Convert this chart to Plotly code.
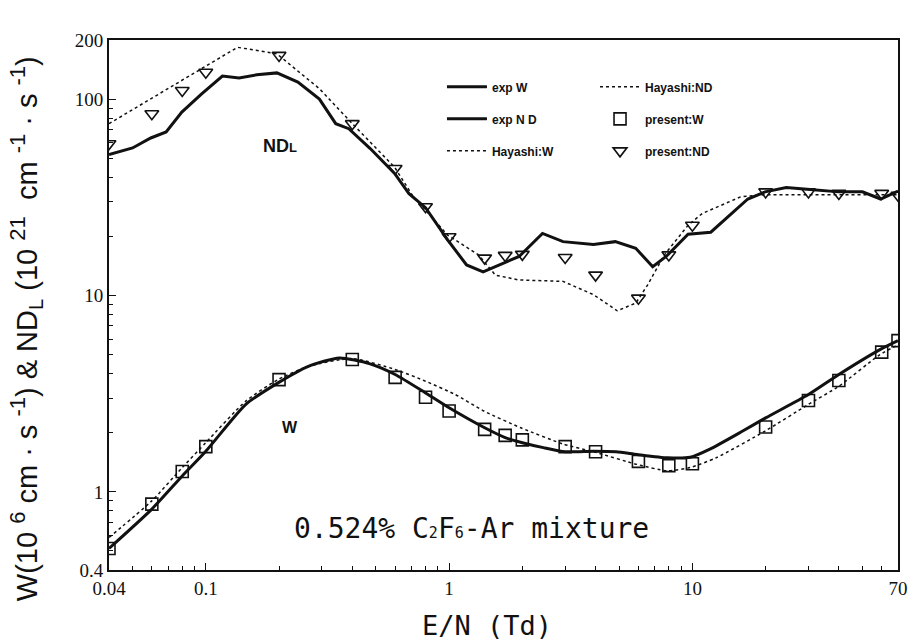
import plotly.graph_objects as go

# ---------------- data ----------------
en_present = [0.04, 0.06, 0.08, 0.1, 0.2, 0.4, 0.6, 0.8, 1, 1.4, 1.7, 2, 3, 4, 6, 8, 10, 20, 30, 40, 60, 70]
w_present = [0.515, 0.866, 1.27, 1.70, 3.73, 4.72, 3.83, 3.03, 2.58, 2.08, 1.94, 1.84, 1.70, 1.60, 1.43, 1.36,
             1.39, 2.14, 2.92, 3.69, 5.15, 5.89]
nd_present = [59.3, 84.2, 110.7, 137, 167, 75, 44.3, 28.3, 19.9, 15.5, 16, 16.2, 15.6, 12.7, 9.69, 16.1, 22.8,
              33.7, 33.7, 33.1, 33.1, 32.4]

en_exp_w = [0.04, 0.06, 0.08, 0.1, 0.146, 0.198, 0.264, 0.354, 0.47, 0.6, 0.8, 1.0, 1.4, 1.7, 2, 2.44, 3, 3.92,
            4.86, 5.92, 7.9, 9.8, 11.8, 16.1, 20, 30, 40, 59, 70]
w_exp = [0.515, 0.817, 1.205, 1.61, 2.79, 3.59, 4.36, 4.81, 4.5, 3.96, 3.19, 2.68, 2.12, 1.89, 1.78, 1.68, 1.60,
         1.61, 1.60, 1.55, 1.49, 1.50, 1.65, 2.04, 2.38, 3.13, 3.96, 5.30, 5.89]

en_hay_w = [0.04, 0.06, 0.08, 0.1, 0.146, 0.198, 0.264, 0.4, 0.6, 0.8, 1.06, 1.39, 1.97, 2.95, 3.92, 5.92, 7.87,
            9.8, 12.5, 19.9, 30, 40, 59, 70]
w_hay = [0.586, 0.90, 1.33, 1.78, 2.9, 3.73, 4.36, 4.77, 4.2, 3.66, 3.13, 2.58, 2.12, 1.75, 1.60, 1.38, 1.28,
         1.33, 1.49, 2.04, 2.79, 3.45, 5.0, 5.6]

en_exp_nd = [0.04, 0.05, 0.0594, 0.0687, 0.0797, 0.0959, 0.117, 0.137, 0.162, 0.196, 0.239, 0.293, 0.342, 0.387,
             0.474, 0.597, 0.684, 0.8, 0.986, 1.18, 1.38, 1.94, 2.42, 2.94, 3.92, 4.82, 5.85, 6.87, 7.8, 9.6,
             11.9, 16.9, 19.9, 24.3, 29.6, 40, 50, 59.4, 70]
nd_exp = [52.2, 56.4, 63.4, 68, 85.9, 106, 131, 128, 133, 136, 122, 100, 75, 70.7, 56, 41.8, 33, 28, 19.2, 14.3,
          13.2, 15.8, 20.7, 18.8, 18.2, 18.8, 17.4, 14.0, 15.8, 20.5, 21, 31, 33.7, 35.5, 34.8, 33.7, 33.7, 31, 34]

en_hay_nd = [0.04, 0.059, 0.135, 0.196, 0.293, 0.4, 0.597, 0.72, 0.788, 0.986, 1.32, 1.55, 1.93, 2.94, 3.92,
             4.91, 5.85, 6.54, 7.67, 9.6, 11, 15.8, 19.6, 29.6, 40, 60, 70]
nd_hay = [75, 100, 183.6, 170, 113, 75, 45, 31.2, 27.8, 20.3, 16.1, 12.7, 12.0, 11.8, 10.1, 8.36, 9.14, 11.3,
          16.1, 22.8, 26.2, 31.8, 32.6, 32.6, 32.6, 32.6, 32.6]

x_tickvals = [0.04, 0.1, 1, 10, 70]
x_ticktext = ["0.04", "0.1", "1", "10", "70"]
y_tickvals = [0.4, 1, 10, 100, 200]
y_ticktext = ["0.4", "1", "10", "100", "200"]
x_minor = [0.05, 0.06, 0.07, 0.08, 0.09, 0.2, 0.3, 0.4, 0.5, 0.6, 0.7, 0.8, 0.9,
           2, 3, 4, 5, 6, 7, 8, 9, 20, 30, 40, 50, 60]
y_minor = [0.5, 0.6, 0.7, 0.8, 0.9, 2, 3, 4, 5, 6, 7, 8, 9, 20, 30, 40, 50, 60, 70, 80, 90]

# ---------------- figure ----------------
BLACK = "#111111"
fig = go.Figure()

fig.add_trace(go.Scatter(x=en_exp_w, y=w_exp, mode="lines", name="exp W", legend="legend",
                         legendgroup="a", line=dict(color=BLACK, width=3, shape="spline", smoothing=0.6)))
fig.add_trace(go.Scatter(x=en_exp_nd, y=nd_exp, mode="lines", name="exp N D", legend="legend",
                         legendgroup="b", line=dict(color=BLACK, width=3)))
fig.add_trace(go.Scatter(x=en_hay_w, y=w_hay, mode="lines", name="Hayashi:W", legend="legend",
                         legendgroup="c", line=dict(color=BLACK, width=1.5, dash="dot", shape="spline",
                                                    smoothing=0.6)))
fig.add_trace(go.Scatter(x=en_hay_nd, y=nd_hay, mode="lines", name="Hayashi:ND", legend="legend2",
                         legendgroup="d", line=dict(color=BLACK, width=1.5, dash="dot")))
fig.add_trace(go.Scatter(x=en_present, y=w_present, mode="markers", name="present:W", legend="legend2",
                         legendgroup="e",
                         marker=dict(symbol="square-open", size=12, color=BLACK, line=dict(width=1.6))))
fig.add_trace(go.Scatter(x=en_present, y=nd_present, mode="markers", name="present:ND", legend="legend2",
                         legendgroup="f",
                         marker=dict(symbol="triangle-down-open", size=12, color=BLACK, line=dict(width=1.6))))

legend_font = dict(family="Liberation Sans", size=12, color=BLACK, weight="bold")
common_leg = dict(orientation="v", bgcolor="rgba(0,0,0,0)", borderwidth=0, font=legend_font,
                  tracegroupgap=13, yanchor="top", xanchor="left", itemwidth=40)

axis_font = dict(family="Liberation Serif", size=19, color=BLACK)

fig.update_layout(
    width=920, height=644,
    margin=dict(l=109, r=15, t=40, b=74),
    plot_bgcolor="white", paper_bgcolor="white",
    showlegend=True,
    legend=dict(x=0.422, y=0.939, **common_leg),
    legend2=dict(x=0.616, y=0.939, **common_leg),
    xaxis=dict(type="log", range=[-1.39794, 1.845098], tickmode="array", tickvals=x_tickvals,
               ticktext=x_ticktext, ticks="inside", ticklen=7, tickwidth=1.2, tickcolor=BLACK,
               minor=dict(tickmode="array", tickvals=x_minor, ticks="inside", ticklen=4, tickcolor=BLACK,
                          showgrid=False),
               showline=True, linewidth=2, linecolor=BLACK, mirror=True, showgrid=False, zeroline=False,
               tickfont=axis_font, ticklabeloverflow="allow"),
    yaxis=dict(type="log", range=[-0.39794, 2.30103], tickmode="array", tickvals=y_tickvals,
               ticktext=y_ticktext, ticks="inside", ticklen=7, tickwidth=1.2, tickcolor=BLACK,
               minor=dict(tickmode="array", tickvals=y_minor, ticks="inside", ticklen=4, tickcolor=BLACK,
                          showgrid=False),
               showline=True, linewidth=2, linecolor=BLACK, mirror=True, showgrid=False, zeroline=False,
               tickfont=axis_font, ticklabeloverflow="allow"),
)

mono = "DejaVu Sans Mono"
sup = "<sup><span style='font-size:22px'>{}</span></sup>"
ytitle = ("W(10 " + sup.format("6") + " cm · s " + sup.format("-1") + ") &amp; ND<sub>L</sub> (10 "
          + sup.format("21") + "  cm " + sup.format("-1") + " · s " + sup.format("-1") + ")")

fig.add_annotation(x=0.479, y=-0.104, xref="paper", yref="paper", showarrow=False,
                   xanchor="center", yanchor="middle",
                   text="E/N (Td)", font=dict(family=mono, size=27, color=BLACK))
fig.add_annotation(x=-0.106, y=0.455, xref="paper", yref="paper", showarrow=False, textangle=-90,
                   xanchor="center", yanchor="middle",
                   text=ytitle, font=dict(family="Liberation Sans", size=29, color=BLACK))
fig.add_annotation(x=0.217, y=0.80, xref="paper", yref="paper", showarrow=False,
                   xanchor="center", yanchor="middle",
                   text="ND<span style='font-size:13px'>L</span>",
                   font=dict(family="Liberation Sans", size=18, color=BLACK, weight="bold"))
fig.add_annotation(x=0.229, y=0.268, xref="paper", yref="paper", showarrow=False,
                   xanchor="center", yanchor="middle",
                   text="W", font=dict(family="Liberation Sans", size=16, color=BLACK, weight="bold"))
fig.add_annotation(x=0.46, y=0.079, xref="paper", yref="paper", showarrow=False,
                   xanchor="center", yanchor="middle",
                   text="0.524% C<span style='font-size:15px'>2</span>F<span style='font-size:15px'>6</span>-Ar mixture",
                   font=dict(family=mono, size=28, color=BLACK))

fig.write_html("out.html", post_script="document.body.style.margin='0';",
               config={"displayModeBar": False})
